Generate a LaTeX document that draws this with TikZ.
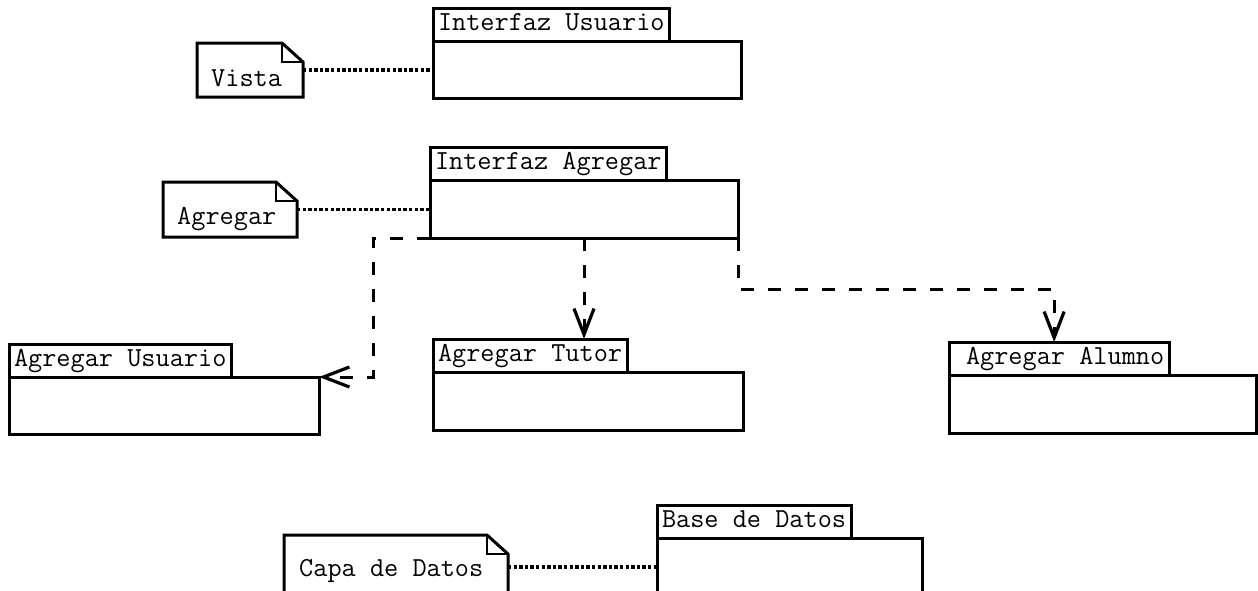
\documentclass[tikz,border=0pt]{standalone}
\usepackage{fontspec}
\usetikzlibrary{arrows.meta,calc}
\tikzset{
  mono/.style={font=\ttfamily\fontsize{27.5pt}{30pt}\selectfont},
  pkgbody/.style={draw, line width=3pt, anchor=north west, inner sep=0pt, outer sep=0pt, minimum height=57pt},
  pkgtab/.style={draw, line width=3pt, anchor=south west, mono, inner xsep=5pt, inner ysep=0pt, outer sep=0pt, minimum height=33pt, text height=16pt, text depth=5pt},
  notearea/.style={draw=none, anchor=north west, inner sep=0pt, outer sep=0pt},
  noteline/.style={line width=3pt, line join=miter},
  notefold/.style={line width=1.5pt},
  notetext/.style={mono, anchor=base west, inner sep=0pt},
  dotline/.style={line width=3.4pt, dash pattern=on 3.4pt off 2.2pt},
  depline/.style={line width=3pt, dash pattern=on 13pt off 14pt, -{Straight Barb[length=26pt,width=20pt,line width=3.2pt]}}
}
\newcommand{\notebox}[1]{%
  \draw[noteline] (#1.north west) -- ([xshift=-21pt]#1.north east) -- ([yshift=-19pt]#1.north east) -- (#1.south east) -- (#1.south west) -- cycle;
  \draw[notefold] ([xshift=-21pt]#1.north east) |- ([yshift=-19pt]#1.north east);}
\begin{document}
\begin{tikzpicture}[x=1pt,y=-1pt]
\useasboundingbox (0,0) rectangle (1258,590);
\fill[white] (0,0) rectangle (1258,590);
\clip (0,0) rectangle (1258,590);

% packages
\node[pkgbody, minimum width=308pt] (iuB) at (433,41) {};
\node[pkgtab] (iuT) at (iuB.north west) {Interfaz Usuario};

\node[pkgbody, minimum width=308pt, minimum height=58pt] (iaB) at (430,180) {};
\node[pkgtab] (iaT) at (iaB.north west) {Interfaz Agregar};

\node[pkgbody, minimum width=310pt] (auB) at (9,377) {};
\node[pkgtab] (auT) at (auB.north west) {Agregar Usuario};

\node[pkgbody, minimum width=310pt, minimum height=58pt] (atB) at (433,372) {};
\node[pkgtab] (atT) at (atB.north west) {Agregar Tutor};

\node[pkgbody, minimum width=307pt, minimum height=58pt] (alB) at (949,375) {};
\node[pkgtab] (alT) at (alB.north west) {\hspace*{12pt}Agregar Alumno};

\node[pkgbody, minimum width=265pt, minimum height=80pt] (bdB) at (657,538) {};
\node[pkgtab] (bdT) at (bdB.north west) {Base de Datos};

% notes
\node[notearea, minimum width=106pt, minimum height=54pt] (vista) at (197,43) {};
\notebox{vista}
\node[notetext] (vistaTxt) at ([xshift=14pt,yshift=-43pt]vista.north west) {Vista};

\node[notearea, minimum width=134pt, minimum height=55pt] (agr) at (163,182) {};
\notebox{agr}
\node[notetext] (agrTxt) at ([xshift=14pt,yshift=-42pt]agr.north west) {Agregar};

\node[notearea, minimum width=224pt, minimum height=64pt] (capa) at (284,535) {};
\notebox{capa}
\node[notetext] (capaTxt) at ([xshift=15pt,yshift=-41pt]capa.north west) {Capa de Datos};

% dotted note links
\draw[dotline] (vista.east) -- (vista.east -| iuB.west);
\draw[dotline] (agr.east) -- (agr.east -| iaB.west);
\draw[dotline] (capa.east) -- (capa.east -| bdB.west);

% dependencies
\draw[depline] (iaB.south west) -- ++(-57,0) |- (auB.north east);
\draw[depline] (iaB.south) -- (iaB.south |- atT.north);
\draw[depline] (iaB.south east) -- ++(0,51) -| ([xshift=-5pt]alT.north);
\end{tikzpicture}
\end{document}
